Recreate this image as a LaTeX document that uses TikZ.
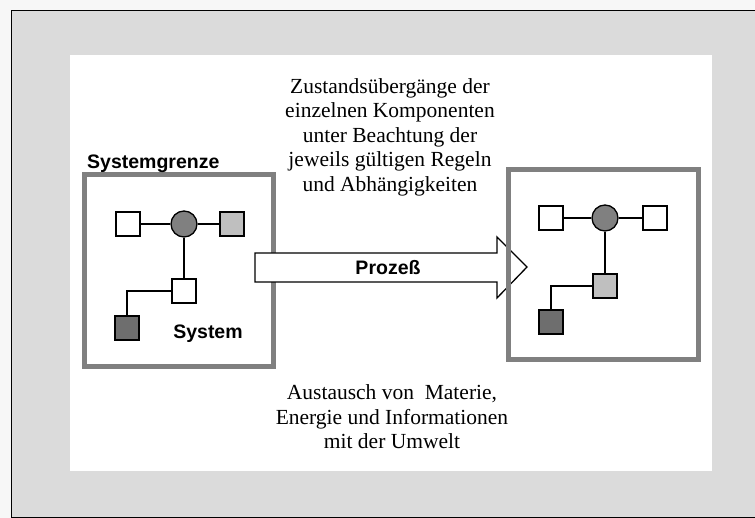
\documentclass[tikz,border=0pt]{standalone}
\usepackage{fontspec}
\setmainfont{Liberation Serif}
\newfontfamily\labelfont{Liberation Sans}
\begin{document}
\begin{tikzpicture}[x=1pt,y=-1pt,
  boxline/.style={draw=black!50,line width=5pt},
  comp/.style={draw=black,line width=1.3pt,minimum size=24pt,inner sep=0pt},
  hub/.style={circle,draw=black,line width=1.3pt,fill=black!50,minimum size=26pt,inner sep=0pt},
  link/.style={draw=black,line width=1.3pt},
  note/.style={align=center,font=\fontsize{21.5}{24.5}\selectfont},
  tag/.style={font=\labelfont\bfseries\fontsize{19.5}{22}\selectfont,inner sep=0pt}]
\useasboundingbox (0,0) rectangle (755,518);
% page frame and white panel
\path[fill=black!3] (0,0) rectangle (755,518);
\draw[fill=black!14,line width=1.5pt] (11.5,10.5) rectangle (760,517.5);
\fill[white] (70,55) rectangle (712,471);

% left system
\draw[boxline] (84,175) rectangle (273,367);
\node[tag,anchor=base west] (grenze) at (87,168.5) {Systemgrenze};
\node[comp,fill=white] (a1) at (128,224) {};
\node[hub] (a2) at (184,224) {};
\node[comp,fill=black!25] (a3) at (232,224) {};
\node[comp,fill=white] (a4) at (184,291) {};
\node[comp,fill=black!57] (a5) at (127,328) {};
\draw[link] (a1) -- (a2);
\draw[link] (a2) -- (a3);
\draw[link] (a2) -- (a4);
\draw[link] (a4.west) -| (a5.north);
\node[tag,anchor=base] (sys) at (208,339) {System};

% process arrow
\draw[fill=white,line width=1.3pt] (255,253) -- (497,253) -- (497,237) -- (527,267)
  -- (497,298) -- (497,282) -- (255,282) -- cycle;
\node[tag,anchor=base] (proc) at (388,275) {Prozeß};

% right system
\draw[boxline] (508.5,169.5) rectangle (698.5,359.5);
\node[comp,fill=white] (b1) at (551,218) {};
\node[hub] (b2) at (605,218) {};
\node[comp,fill=white] (b3) at (655,218) {};
\node[comp,fill=black!25] (b4) at (605,286) {};
\node[comp,fill=black!57] (b5) at (551,322) {};
\draw[link] (b1) -- (b2);
\draw[link] (b2) -- (b3);
\draw[link] (b2) -- (b4);
\draw[link] (b4.west) -| (b5.north);

% annotations
\node[note] (top) at (390,137) {Zustandsübergänge der\\einzelnen Komponenten\\unter Beachtung der\\jeweils gültigen Regeln\\und Abhängigkeiten};
\node[note] (bottom) at (392,417) {Austausch von\ \ Materie,\\Energie und Informationen\\mit der Umwelt};
\end{tikzpicture}
\end{document}
